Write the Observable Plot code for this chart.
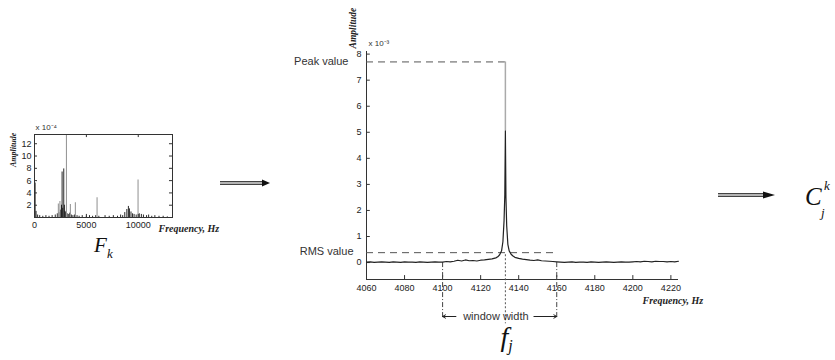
<!DOCTYPE html>
<html>
<head>
<meta charset="utf-8">
<script src="https://cdn.jsdelivr.net/npm/d3@7"></script>
<script src="https://cdn.jsdelivr.net/npm/@observablehq/plot@0.6"></script>
<style>
  html, body { margin: 0; padding: 0; background: #fff; }
  #wrap { position: relative; width: 835px; height: 360px; background: #fff; overflow: hidden; }
  #wrap > * { position: absolute; }
  #main { left: 0; top: 0; }
  #small { left: 0; top: 100px; }
  #overlay { left: 0; top: 0; pointer-events: none; }
</style>
</head>
<body>
<div id="wrap">
  <div id="small"></div>
  <div id="main"></div>
  <svg id="overlay" width="835" height="360"></svg>
</div>
<script>
// ---------- Data: zoomed spectrum around f_j (amplitude x 10^-3) ----------
const mainFreq = [4060,4062,4064,4066,4068,4070,4072,4074,4076,4078,4080,4082,4084,4086,4088,4090,4092,4094,4096,4098,
  4100,4102,4104,4106,4108,4110,4112,4114,4116,4118,4120,4122,4124,4126,4128,4129,4130,4131,4131.7,4132.3,4132.7,
  4133,4133.3,4133.7,4134.3,4135,4136,4137,4138,4140,4142,4144,4146,4148,4150,4152,4154,4156,4158,4160,
  4162,4164,4166,4168,4170,4172,4174,4176,4178,4180,4182,4184,4186,4188,4190,4192,4194,4196,4198,4200,
  4202,4204,4206,4208,4210,4212,4214,4216,4218,4220,4222,4224];
const mainAmp = [0.02,0.03,0.01,0.02,0.03,0.02,0.01,0.03,0.02,0.01,0.03,0.02,0.02,0.01,0.03,0.02,0.01,0.02,0.03,0.02,
  0.02,0.04,0.03,0.05,0.09,0.06,0.10,0.07,0.08,0.06,0.09,0.10,0.12,0.14,0.18,0.22,0.30,0.45,0.80,1.60,2.60,
  5.05,2.50,1.40,0.70,0.45,0.32,0.25,0.20,0.16,0.13,0.11,0.09,0.08,0.10,0.07,0.06,0.05,0.04,0.03,
  0.02,0.01,0.02,0.03,0.01,0.02,0.02,0.01,0.03,0.02,0.01,0.02,0.03,0.02,0.01,0.02,0.03,0.02,0.02,0.03,
  0.04,0.03,0.05,0.04,0.03,0.05,0.04,0.04,0.03,0.04,0.03,0.05];
const peakFreq = 4133;
const peakValue = 7.7;
const peakCoreTop = 5.05;
const rmsValue = 0.38;
const windowEdges = [4100, 4160];
const mainXTicks = [4060,4080,4100,4120,4140,4160,4180,4200,4220];
const mainYTicks = [0,1,2,3,4,5,6,7,8];
const mainXDomain = [4060, 4224];
const mainYDomain = [-0.65, 8.1];

// ---------- Data: full spectrum F_k (amplitude x 10^-4) ----------
const blackFreq = [60,150,300,500,800,1100,1400,1700,2000,2200,2350,2500,2600,2660,2720,2820,2880,2950,3020,3150,3300,3400,3550,3700,3850,
  4100,4300,4600,5000,5300,5600,5900,6200,6800,7200,7600,8000,8300,8500,8700,8900,9050,9150,9300,9450,9600,9800,
  10100,10300,10500,10800,11000,11300,11600,12000,12400,12800];
const blackAmp = [5.6,1.0,0.4,0.3,0.2,0.3,0.2,0.3,0.4,0.6,0.8,1.2,2.0,7.4,1.5,7.9,2.0,1.0,0.8,0.6,0.5,0.7,0.4,0.3,0.4,
  0.3,0.2,0.3,0.2,0.3,0.2,0.3,0.2,0.3,0.2,0.3,0.2,0.4,0.3,0.8,1.3,1.8,1.4,0.9,0.6,0.5,0.4,
  0.6,0.5,0.4,0.3,0.4,0.2,0.3,0.2,0.2,0.1];
const grayFreq = [2300,2450,3080,3460,3940,6030,9980];
const grayAmp = [2.2,2.6,13.5,2.1,2.4,3.2,6.1];
const smallXTicks = [0,5000,10000];
const smallYTicks = [2,4,6,8,10,12];
const smallXDomain = [0, 13300];
const smallYDomain = [0, 13.5];

const mainData = mainFreq.map((f, i) => ({f, a: mainAmp[i]}));
const blackSpikes = blackFreq.map((f, i) => ({f, a: blackAmp[i]}));
const graySpikes = grayFreq.map((f, i) => ({f, a: grayAmp[i]}));

const SANS = "Liberation Sans, Arial, Helvetica, sans-serif";
const SERIF = "Liberation Serif, Times New Roman, serif";
const AX = "#333";
const plain = d => String(d);

// ---------- Main zoomed chart ----------
const [mx0, mx1] = mainXDomain, [my0, my1] = mainYDomain;
const main = Plot.plot({
  width: 835, height: 360,
  marginLeft: 366, marginRight: 157, marginTop: 51, marginBottom: 81,
  x: {domain: mainXDomain},
  y: {domain: mainYDomain},
  style: {fontFamily: SANS, fontSize: "9px", color: "#222", background: "transparent", overflow: "visible"},
  marks: [
    Plot.axisX(mainXTicks, {tickSize: 0, tickPadding: 5, label: null, tickFormat: plain}),
    Plot.axisY(mainYTicks, {tickSize: 0, tickPadding: 5, label: null, tickFormat: plain}),
    Plot.ruleY([my0], {x1: mx0, x2: mx1, stroke: AX}),
    Plot.ruleX([mx0], {y1: my0, y2: my1, stroke: AX}),
    Plot.ruleX(mainXTicks, {y1: my0, y2: my0 + 0.15, stroke: AX}),
    Plot.ruleY(mainYTicks, {x1: mx0, x2: mx0 + 2, stroke: AX}),
    // reference lines
    Plot.ruleY([peakValue], {x1: mx0, x2: peakFreq, stroke: "#555", strokeDasharray: "7,5"}),
    Plot.ruleY([rmsValue], {x1: mx0, x2: windowEdges[1] + 0.5, stroke: "#555", strokeDasharray: "7,5"}),
    Plot.ruleX(windowEdges, {y1: 0, y2: -2.15, stroke: "#444", strokeDasharray: "5,2,1,2"}),
    Plot.ruleX([peakFreq], {y1: 0.3, y2: -2.35, stroke: "#555", strokeDasharray: "2,2"}),
    // spectrum
    Plot.ruleX([peakFreq], {y1: peakCoreTop, y2: peakValue, stroke: "#aaa", strokeWidth: 1.5}),
    Plot.line(mainData, {x: "f", y: "a", stroke: "#222", strokeWidth: 1.2}),
    // window width arrows + label
    Plot.arrow([{a: 4107, b: windowEdges[0]}, {a: 4148, b: windowEdges[1]}],
      {x1: "a", x2: "b", y1: -2.07, y2: -2.07, stroke: "#222", headLength: 5, strokeWidth: 1}),
    Plot.text(["window width"], {x: 4128, y: -2.07, fontSize: 11, fill: "#333", fontFamily: SANS}),
    // labels
    Plot.text(["Peak value"], {x: mx0, y: peakValue, dx: -18, textAnchor: "end", fontSize: 11, fill: "#333"}),
    Plot.text(["RMS value"], {x: mx0, y: rmsValue, dx: -13, dy: -1, textAnchor: "end", fontSize: 11, fill: "#333"}),
    Plot.text(["x 10\u207B\u00B3"], {x: mx0, y: my1, dx: 2, dy: -8, textAnchor: "start", fontSize: 8, fill: "#333"}),
    Plot.text(["Amplitude"], {x: mx0, y: 9.0, dx: -14, rotate: -90, fontSize: 9.5, fontStyle: "italic", fontWeight: "bold", fontFamily: SERIF, fill: "#222"}),
    Plot.text(["Frequency, Hz"], {x: mx1, y: my0, dx: -36, dy: 21, textAnchor: "start", fontSize: 10, fontStyle: "italic", fontWeight: "bold", fontFamily: SERIF, fill: "#222"}),
    Plot.text(["f"], {x: peakFreq, y: -2.87, dx: -1, fontSize: 28, fontStyle: "italic", fontFamily: SERIF, fill: "#111"}),
    Plot.text(["j"], {x: peakFreq, y: -3.2, dx: 5, fontSize: 16, fontStyle: "italic", fontFamily: SERIF, fill: "#111"})
  ]
});
document.getElementById("main").appendChild(main);

// ---------- Small full-spectrum chart ----------
const [sx0, sx1] = smallXDomain, [sy0, sy1] = smallYDomain;
const small = Plot.plot({
  width: 240, height: 160,
  marginLeft: 34, marginRight: 68, marginTop: 34, marginBottom: 43,
  x: {domain: smallXDomain},
  y: {domain: smallYDomain},
  style: {fontFamily: SANS, fontSize: "9px", color: "#222", background: "transparent", overflow: "visible"},
  marks: [
    Plot.ruleX(blackSpikes, {x: "f", y1: 0, y2: "a", stroke: "#111", strokeWidth: 0.9}),
    Plot.ruleX(graySpikes, {x: "f", y1: 0, y2: "a", stroke: "#999", strokeWidth: 1.1}),
    Plot.frame({stroke: AX}),
    Plot.axisX(smallXTicks, {tickSize: 0, tickPadding: 4, label: null, tickFormat: plain}),
    Plot.axisY(smallYTicks, {tickSize: 0, tickPadding: 3, label: null, tickFormat: plain}),
    Plot.ruleX(smallXTicks, {y1: sy0, y2: sy0 + 0.5, stroke: AX}),
    Plot.ruleX(smallXTicks, {y1: sy1, y2: sy1 - 0.5, stroke: AX}),
    Plot.ruleY(smallYTicks, {x1: sx0, x2: sx0 + 290, stroke: AX}),
    Plot.ruleY(smallYTicks, {x1: sx1, x2: sx1 - 290, stroke: AX}),
    Plot.text(["x 10\u207B\u2074"], {x: sx0, y: sy1, dx: 1, dy: -7, textAnchor: "start", fontSize: 8, fill: "#333"}),
    Plot.text(["Amplitude"], {x: sx0, y: 11, dx: -21, rotate: -90, fontSize: 8, fontStyle: "italic", fontWeight: "bold", fontFamily: SERIF, fill: "#222"}),
    Plot.text(["Frequency, Hz"], {x: sx1, y: sy0, dx: -14, dy: 11, textAnchor: "start", fontSize: 10, fontStyle: "italic", fontWeight: "bold", fontFamily: SERIF, fill: "#222"})
  ]
});
document.getElementById("small").appendChild(small);

// ---------- Decorative arrows and math labels ----------
const ov = d3.select("#overlay");
function bigArrow(x0, x1, y, head) {
  const g = ov.append("g");
  g.append("line").attr("x1", x0).attr("x2", x1 - head + 1).attr("y1", y - 1.3).attr("y2", y - 1.3).attr("stroke", "#444").attr("stroke-width", 1.2);
  g.append("line").attr("x1", x0).attr("x2", x1 - head + 1).attr("y1", y + 1.3).attr("y2", y + 1.3).attr("stroke", "#444").attr("stroke-width", 1.2);
  g.append("line").attr("x1", x0).attr("x2", x1 - head + 1).attr("y1", y).attr("y2", y).attr("stroke", "#aaa").attr("stroke-width", 1.4);
  g.append("path").attr("d", `M${x1 - head},${y - 3.5}L${x1},${y}L${x1 - head},${y + 3.5}Z`).attr("fill", "#111");
}
bigArrow(220, 270, 183, 8);
bigArrow(718, 775, 195, 12);

function txt(x, y, s, size) {
  ov.append("text").attr("x", x).attr("y", y).attr("font-family", SERIF).attr("font-style", "italic")
    .attr("font-size", size).attr("fill", "#111").text(s);
}
txt(94, 252, "F", 21);
txt(107, 258, "k", 13);
txt(805, 205, "C", 25);
txt(821, 217, "j", 13);
txt(824, 190, "k", 13);
</script>
</body>
</html>
